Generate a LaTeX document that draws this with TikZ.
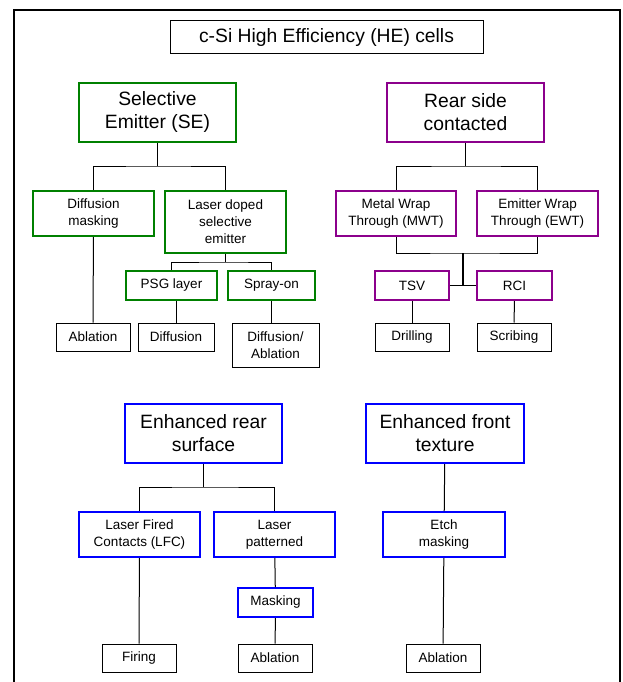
\documentclass[tikz,border=0pt]{standalone}
\usepackage{fontspec}
\setmainfont{Liberation Sans}
\usetikzlibrary{positioning}
\definecolor{segreen}{RGB}{0,128,0}
\definecolor{rspurple}{RGB}{140,0,140}
\definecolor{enblue}{RGB}{0,0,255}

\begin{document}
\begin{tikzpicture}[
  x=1pt,y=-1pt,
  box/.style={draw,align=center,inner sep=0pt,line width=1pt,font=\fontsize{13.5}{17}\selectfont},
  bigbox/.style={box,font=\fontsize{19.3}{23}\selectfont},
  dims/.style 2 args={minimum width=#1,minimum height=#2},
  gbox/.style={draw=segreen,line width=2pt},
  pbox/.style={draw=rspurple,line width=2pt},
  bbox/.style={draw=enblue,line width=2pt},
  leaf/.style={box,dims={74pt}{28pt}},
  link/.style={line width=1pt},
  bus/.style={line width=2pt}
]
\useasboundingbox (0,0) rectangle (622,682);
\draw[line width=2pt] (14,682) -- (14,10) -- (620,10) -- (620,682);

\node[bigbox,dims={313pt}{33pt}] (title) at (326.5,37.5) {c-Si High Efficiency (HE) cells};

\node[bigbox,gbox,dims={157pt}{59pt}] (se) at (157.5,112.5) {Selective\\Emitter (SE)};
\node[box,gbox,dims={121pt}{45pt}] (dm) at (93.5,213.5) {Diffusion\\masking};
\node[box,gbox,dims={121pt}{62pt}] (ldse) at (225.5,222) {Laser doped\\selective\\emitter};
\node[box,gbox,dims={91pt}{29pt}] (psg) at (171.5,285.5) {PSG layer};
\node[box,gbox,dims={87pt}{29pt}] (spray) at (271.5,285.5) {Spray-on};
\node[leaf] (abl1) at (93,337) {Ablation};
\node[leaf,dims={76pt}{28pt}] (diff) at (176,337) {Diffusion};
\node[leaf,dims={87pt}{44pt}] (diffabl) at (275.5,345) {Diffusion/\\Ablation};

\node[bigbox,pbox,dims={157pt}{59pt}] (rsc) at (465.5,112.5) {Rear side\\contacted};
\node[box,pbox,dims={120pt}{45pt}] (mwt) at (396,213.5) {Metal Wrap\\Through (MWT)};
\node[box,pbox,dims={121pt}{45pt}] (ewt) at (537.5,213.5) {Emitter Wrap\\Through (EWT)};
\node[box,pbox,dims={74pt}{29pt}] (tsv) at (412,285.5) {TSV};
\node[box,pbox,dims={75pt}{29pt}] (rci) at (514.5,285.5) {RCI};
\node[leaf] (drill) at (412,337) {Drilling};
\node[leaf] (scrib) at (514,337) {Scribing};

\node[bigbox,bbox,dims={157pt}{59pt}] (ers) at (203.5,433.5) {Enhanced rear\\surface};
\node[box,bbox,dims={121pt}{45pt}] (lfc) at (139.5,534.5) {Laser Fired\\Contacts (LFC)};
\node[box,bbox,dims={121pt}{45pt}] (lp) at (274.5,534.5) {Laser\\patterned};
\node[box,bbox,dims={75pt}{29pt}] (mask) at (275.5,602.5) {Masking};
\node[leaf] (firing) at (139,658) {Firing};
\node[leaf] (abl2) at (275,658) {Ablation};

\node[bigbox,bbox,dims={158pt}{59pt}] (eft) at (445,433.5) {Enhanced front\\texture};
\node[box,bbox,dims={122pt}{45pt}] (etch) at (444,534.5) {Etch\\masking};
\node[leaf] (abl3) at (443,658) {Ablation};

\coordinate (sej) at (157.5,166);
\coordinate (ldj) at (225.5,262);
\coordinate (rsj) at (465.5,166);
\coordinate (rj) at (463,253);
\coordinate (ersj) at (203.5,487);

\draw[link] (se) -- (sej);
\draw[link] (dm.north) |- (sej) -| (ldse.north);
\draw[link] (ldse) -- (ldj);
\draw[link] (psg.north) |- (ldj) -| (spray.north);
\draw[link] (dm) -- (abl1);
\draw[link] (diff.north) -- (diff.north |- psg.south);
\draw[link] (spray.south) -- (spray.south |- diffabl.north);

\draw[link] (rsc) -- (rsj);
\draw[link] (mwt.north) |- (rsj) -| (ewt.north);
\draw[link] (mwt.south) |- (rj) -| (ewt.south);
\draw[bus] (rj) -- (rj |- tsv.east);
\draw[link] (tsv.east) -- (rci.west);
\draw[link] (tsv) -- (drill);
\draw[link] (rci) -- (scrib);

\draw[link] (ers) -- (ersj);
\draw[link] (lfc.north) |- (ersj) -| (lp.north);
\draw[link] (lfc) -- (firing);
\draw[link] (lp) -- (mask);
\draw[link] (mask) -- (abl2);

\draw[link] (eft) -- (etch);
\draw[link] (etch) -- (abl3);
\end{tikzpicture}
\end{document}
